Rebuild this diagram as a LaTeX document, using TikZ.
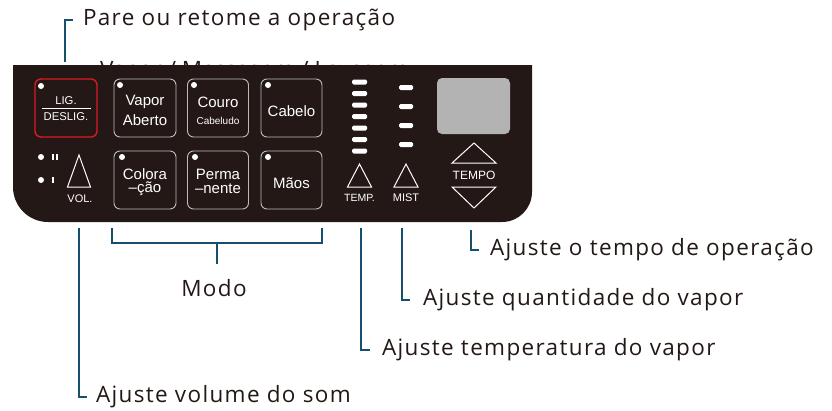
\documentclass[tikz,border=0pt]{standalone}
\usepackage{fontspec}
\setmainfont{Open Sans}
\newfontfamily\capfont[LetterSpace=6]{Open Sans}
\newfontfamily\panelfont{Liberation Sans}
\begin{document}
\begin{tikzpicture}[x=1pt,y=-1pt,
  every node/.style={inner sep=0pt, outer sep=0pt},
  captxt/.style={font=\capfont\fontsize{22.5}{26}\selectfont, text=txt, anchor=west},
  conn/.style={draw=lineblue, line width=2.4pt},
  btn/.style={draw=btngray, line width=0.9pt, rounded corners=6pt, minimum height=58pt},
  btntxt/.style={text=white, font=\panelfont\fontsize{15}{17}\selectfont, align=center},
  smalltxt/.style={text=white, font=\panelfont\fontsize{11.3}{13}\selectfont},
  labtxt/.style={text=white, font=\panelfont\fontsize{11}{13}\selectfont},
  led/.style={fill=white, circle, minimum size=6pt},
  tri/.style={draw=white, line width=1pt, line join=miter},
  barstyle/.style={fill=white, rounded corners=1.5pt}]
\definecolor{panel}{HTML}{231815}
\definecolor{txt}{HTML}{231815}
\definecolor{lineblue}{HTML}{17506F}
\definecolor{btngray}{HTML}{BDBDBD}
\definecolor{redbtn}{HTML}{DA1A23}
\definecolor{disp}{HTML}{B3B3B3}
\useasboundingbox (0,0) rectangle (832,410);

% partially hidden label behind the panel
\node[captxt, font=\fontsize{22.5}{26}\selectfont, anchor=base west] (vml) at (100,77) {Vapor / Massagem / Lavagem};

% panel
\fill[panel] (13,65) -- (532,65) -- (532,192) arc[start angle=0,end angle=90,radius=30]
  -- (48,222) arc[start angle=90,end angle=180,radius=35] -- cycle;

% buttons
\node[btn, draw=redbtn, line width=1.4pt, minimum width=62pt] (lig) at (66,108) {};
\node[btn, minimum width=62pt] (vapor) at (145,108) {};
\node[btn, minimum width=61pt] (couro) at (218,108) {};
\node[btn, minimum width=61pt] (cabelo) at (291.5,108) {};
\node[btn, minimum width=62pt] (colora) at (145,180) {};
\node[btn, minimum width=61pt] (perma) at (218,180) {};
\node[btn, minimum width=61pt] (maos) at (291.5,180) {};

% leds
\node[led] (l1) at (41,86) {};
\node[led] (l2) at (120,85) {};
\node[led] (l3) at (194,85) {};
\node[led] (l4) at (268,85) {};
\node[led] (l5) at (122,157) {};
\node[led] (l6) at (195,157) {};
\node[led] (l7) at (268,157) {};

% button texts
\node[smalltxt] (ligt) at (66,101) {LIG.};
\draw[white, line width=0.8pt] (42,108) -- (91,108);
\node[smalltxt] (deslig) at (66,117) {DESLIG.};
\node[btntxt] (vt1) at (145,102) {Vapor};
\node[btntxt] (vt2) at (145,120) {Aberto};
\node[btntxt] (ct1) at (218,102) {Couro};
\node[text=white, font=\panelfont\fontsize{10}{12}\selectfont] (ct2) at (218,121) {Cabeludo};
\node[btntxt] (cabt) at (291.5,111) {Cabelo};
\node[btntxt] (colt1) at (145,174) {Colora};
\node[btntxt] (colt2) at (145,189) {–ção};
\node[btntxt] (pt1) at (218,174) {Perma};
\node[btntxt] (pt2) at (218,189) {–nente};
\node[btntxt] (mt) at (291.5,183) {Mãos};

% volume
\node[led] (vd1) at (41,157) {};
\node[led] (vd2) at (41,180) {};
\fill[white] (52,154) rectangle (54,160);
\fill[white] (56,154) rectangle (58,160);
\fill[white] (52,177) rectangle (54,183);
\draw[tri] (79,155) -- (90.5,187) -- (67.5,187) -- cycle;
\node[labtxt] (volt) at (80,199) {VOL.};

% temp bars
\foreach \yy in {82,93.5,105,116.5,128,139.5,151}
  \fill[barstyle] (352,\yy-2.5) rectangle (367,\yy+2.5);
\draw[tri] (359.5,164) -- (371.5,187) -- (347.5,187) -- cycle;
\node[labtxt, font=\panelfont\fontsize{10.5}{12}\selectfont] (tempt) at (359.5,198) {TEMP.};

% mist bars
\foreach \yy in {87.5,106.5,125.5,144.5}
  \fill[barstyle] (399,\yy-2.5) rectangle (413,\yy+2.5);
\draw[tri] (406,164) -- (418,187) -- (394,187) -- cycle;
\node[labtxt] (mistt) at (406,198) {MIST};

% display and tempo
\fill[disp, rounded corners=5pt] (437,78) rectangle (510,134);
\draw[tri] (474,143) -- (496,163) -- (452,163) -- cycle;
\node[labtxt, font=\panelfont\fontsize{12}{14}\selectfont] (tempot) at (474,175) {TEMPO};
\draw[tri] (452,187) -- (496,187) -- (474,208) -- cycle;

% captions
\node[captxt] (cPare) at (83,20) {Pare ou retome a operação};
\node[captxt] (cVol) at (96,397) {Ajuste volume do som};
\node[captxt, anchor=center] (cModo) at (214,288) {Modo};
\node[captxt] (cTemp) at (382,350) {Ajuste temperatura do vapor};
\node[captxt] (cMist) at (423,300) {Ajuste quantidade do vapor};
\node[captxt] (cTempo) at (490,250) {Ajuste o tempo de operação};

% connectors
\coordinate (pBot) at (65,62);
\coordinate (volTop) at (79,228);
\coordinate (mL) at (112,228);
\coordinate (mR) at (322,228);
\coordinate (mMid) at (217,243);
\coordinate (mStem) at (217,264);
\coordinate (tTop) at (361,228);
\coordinate (mistTop) at (402,228);
\coordinate (tempoTop) at (471,230);

\draw[conn] (pBot) |- ([xshift=-10]cPare.west);
\draw[conn] (volTop) |- ([xshift=-9]cVol.west);
\draw[conn] (mL) -- (112,243) -- (322,243) -- (mR);
\draw[conn] (mMid) -- (mStem);
\draw[conn] (tTop) |- ([xshift=-12]cTemp.west);
\draw[conn] (mistTop) |- ([xshift=-13]cMist.west);
\draw[conn] (tempoTop) |- ([xshift=-11]cTempo.west);
\end{tikzpicture}
\end{document}
